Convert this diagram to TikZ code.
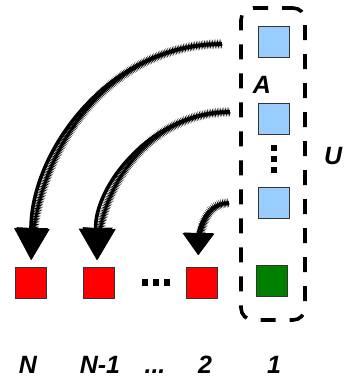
\documentclass[tikz,border=0pt]{standalone}
\usepackage{fontspec}
\setmainfont{Liberation Sans}
\usetikzlibrary{arrows.meta,decorations.pathmorphing}
\definecolor{lblue}{HTML}{99CCFF}
\definecolor{dgreen}{HTML}{007F00}
\definecolor{edgegray}{HTML}{333333}
\tikzset{
  sq/.style={draw=edgegray, line width=0.9pt, minimum width=31pt, minimum height=31pt, inner sep=0pt},
  redsq/.style={sq, fill=red},
  bluesq/.style={sq, fill=lblue},
  greensq/.style={sq, fill=dgreen},
  lbl/.style={font=\fontsize{25}{30}\selectfont\bfseries\itshape, inner sep=0pt},
  dotbox/.style={fill=black, minimum width=6pt, minimum height=7pt, inner sep=0pt},
  fuzz/.style={postaction={draw, line width=0.8pt, decorate,
      decoration={zigzag, amplitude=2.4pt, segment length=1.6pt, post length=#1}}},
  bigarrow/.style={line width=3.6pt, -{Triangle[length=32pt,width=33pt]}, fuzz=30pt},
  smallarrow/.style={line width=3.6pt, -{Triangle[length=22pt,width=30pt]}, fuzz=20pt},
}
\begin{document}
\begin{tikzpicture}[x=1pt,y=-1pt]
\useasboundingbox (0,0) rectangle (345,380);
% group box
\node[draw, line width=3.6pt, dash pattern=on 15pt off 14pt, dash phase=4pt, rounded corners=12pt,
      minimum width=64pt, minimum height=312pt, inner sep=0pt] (ubox) at (273,164) {};
% blue squares
\node[bluesq] (b1) at (273.5,41.5) {};
\node[bluesq] (b2) at (273.5,119) {};
\node[bluesq] (b3) at (273.5,202.5) {};
\node[greensq] (g1) at (271.5,280.5) {};
% vertical dots
\node[dotbox, minimum width=6pt, minimum height=6pt] (vd1) at (274,148) {};
\node[dotbox, minimum width=6pt, minimum height=6pt] (vd2) at (274,159) {};
\node[dotbox, minimum width=6pt, minimum height=6pt] (vd3) at (274,170) {};
% red squares
\node[redsq] (r1) at (31,283) {};
\node[redsq] (r2) at (98.5,283) {};
\node[redsq] (r3) at (202,283) {};
% horizontal dots
\node[dotbox] (hd1) at (145,282) {};
\node[dotbox] (hd2) at (156,282) {};
\node[dotbox] (hd3) at (167,282) {};
% labels
\node[lbl] (la) at (262,85) {A};
\node[lbl, anchor=west] (lu) at (324,156) {U};
\node[lbl, anchor=base] (ln) at (28,373) {N};
\node[lbl, anchor=base] (ln1) at (100,373) {N-1};
\node[lbl, anchor=base] (ldots) at (155,373) {...};
\node[lbl, anchor=base] (l2) at (205,373) {2};
\node[lbl, anchor=base] (l1) at (274,373) {1};
% arrow starts
\coordinate (s1) at (222,44);
\coordinate (s2) at (230,112);
\coordinate (s3) at (229,203);
% arrows
\draw[bigarrow, shorten >=7pt] (s1) to[out=180,in=90] (r1.north);
\draw[bigarrow, shorten >=7pt] (s2) to[out=180,in=92] ([xshift=-1.5pt]r2.north);
\draw[smallarrow, shorten >=12pt] (s3) to[out=180,in=90] ([xshift=-4pt]r3.north);
\end{tikzpicture}
\end{document}
